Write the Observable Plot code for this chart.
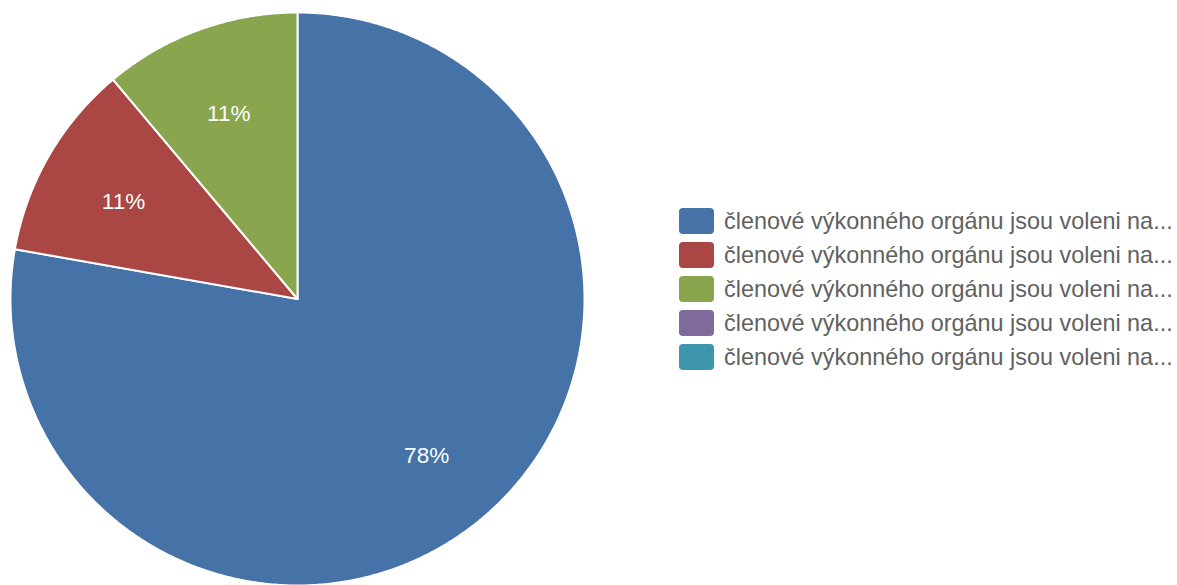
<!DOCTYPE html>
<html><head><meta charset="utf-8">
<script src="https://cdn.jsdelivr.net/npm/d3@7"></script>
<script src="https://cdn.jsdelivr.net/npm/@observablehq/plot@0.6"></script>
<style>
body{margin:0;background:#fff;font-family:"Liberation Sans",Arial,sans-serif}
#wrap{position:relative;width:1177px;height:585px;overflow:hidden}
#legend{position:absolute;left:679px;top:204px}
.item{display:flex;align-items:center;height:34px}
.sw{width:35px;height:26px;border-radius:4px;margin-right:10px;flex:none}
.lab{font-size:23.4px;color:#616161;white-space:nowrap}
</style></head><body><div id="wrap"><div id="legend"></div></div>
<script>
const categories = [
  "členové výkonného orgánu jsou voleni na... (1)",
  "členové výkonného orgánu jsou voleni na... (2)",
  "členové výkonného orgánu jsou voleni na... (3)",
  "členové výkonného orgánu jsou voleni na... (4)",
  "členové výkonného orgánu jsou voleni na... (5)"
];
const legendLabels = [
  "členové výkonného orgánu jsou voleni na...",
  "členové výkonného orgánu jsou voleni na...",
  "členové výkonného orgánu jsou voleni na...",
  "členové výkonného orgánu jsou voleni na...",
  "členové výkonného orgánu jsou voleni na..."
];
const values = [7, 1, 1, 0, 0];
const colors = ["#4572A7", "#AA4643", "#89A54E", "#80699B", "#3D96AE"];

const total = d3.sum(values);
const arcs = d3.pie().sort(null).value(d => d)(values);

const verts = [];
const labels = [];
arcs.forEach((a, i) => {
  if (values[i] <= 0) return;
  const cat = categories[i];
  verts.push({cat, x: 0, y: 0});
  const n = Math.max(2, Math.ceil((a.endAngle - a.startAngle) / (Math.PI / 360)));
  for (let k = 0; k <= n; k++) {
    const t = a.startAngle + (a.endAngle - a.startAngle) * k / n;
    verts.push({cat, x: Math.sin(t), y: Math.cos(t)});
  }
  const m = (a.startAngle + a.endAngle) / 2;
  labels.push({cat, x: 0.7 * Math.sin(m), y: 0.7 * Math.cos(m), text: Math.round(values[i] / total * 100) + "%"});
});

const chart = Plot.plot({
  width: 1177,
  height: 585,
  margin: 0,
  style: {fontFamily: "'Liberation Sans', Arial, sans-serif", background: "transparent"},
  x: {domain: [-1, 1], range: [10, 584], axis: null},
  y: {domain: [-1, 1], range: [585, 12], axis: null},
  color: {domain: categories, range: colors},
  marks: [
    Plot.line(verts, {x: "x", y: "y", z: "cat", fill: "cat", stroke: "white", strokeWidth: 2, strokeLinejoin: "round", curve: "linear-closed"}),
    Plot.text(labels, {x: "x", y: "y", text: "text", fill: "white", fontSize: 22.5, dy: 3})
  ]
});
const wrap = document.getElementById("wrap");
wrap.insertBefore(chart, wrap.firstChild);

const legend = d3.select("#legend");
legendLabels.forEach((l, i) => {
  const row = legend.append("div").attr("class", "item");
  row.append("div").attr("class", "sw").style("background", colors[i]);
  row.append("div").attr("class", "lab").text(l);
});
</script>
</body></html>
